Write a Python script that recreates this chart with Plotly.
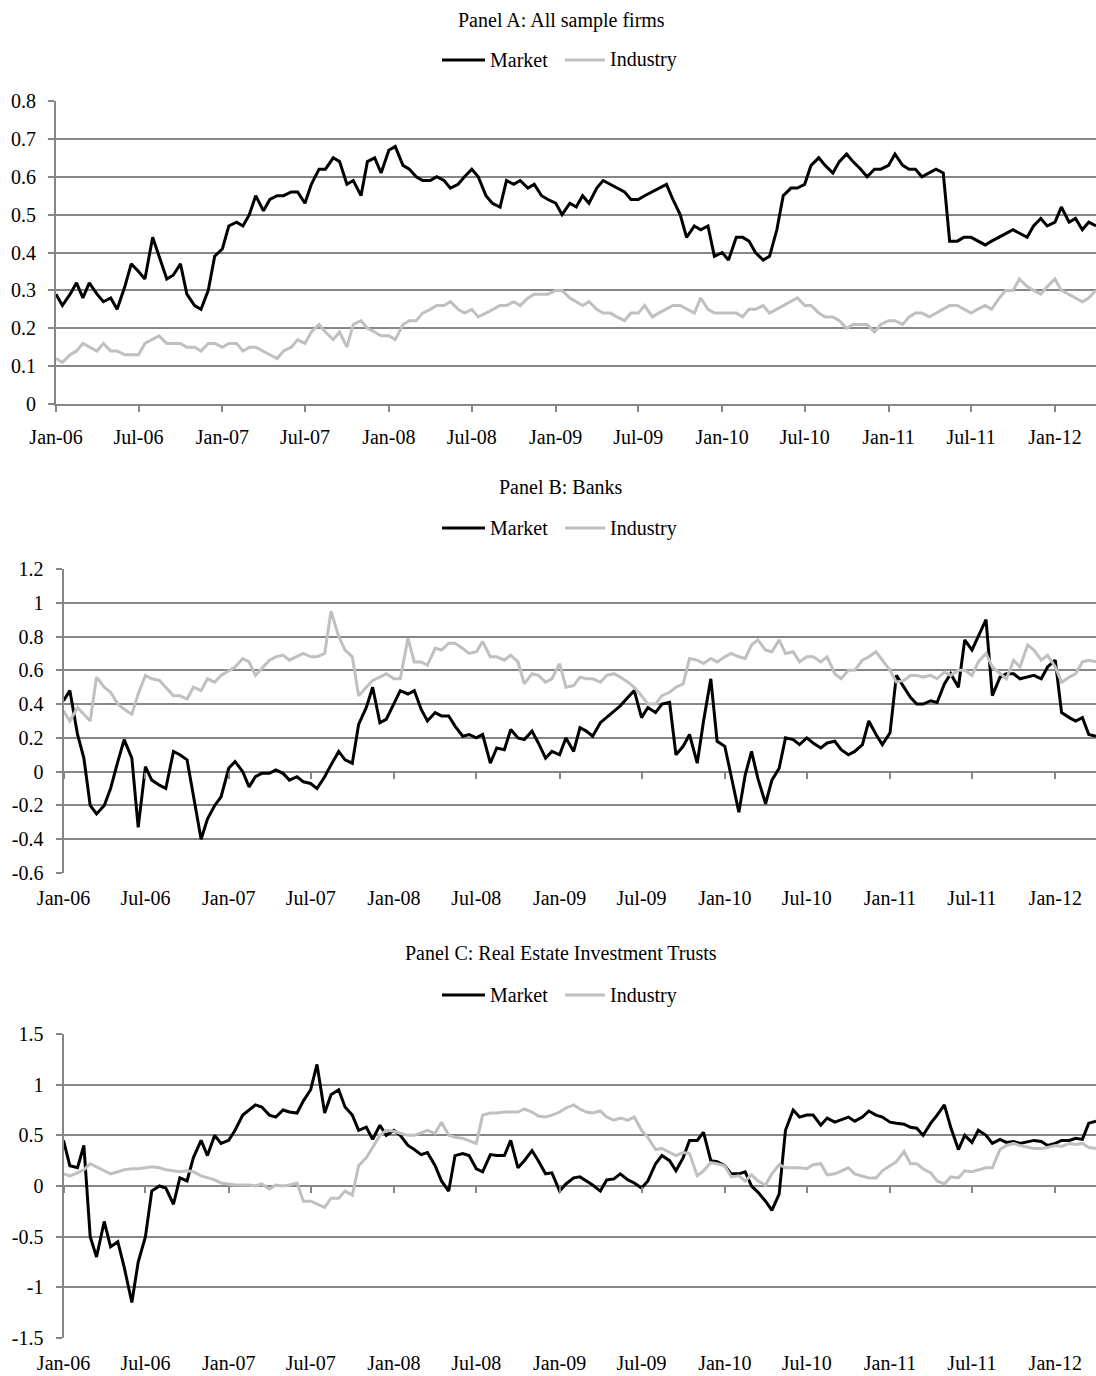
import pandas as pd
import plotly.graph_objects as go

# ---- data (semi-monthly readings, Jan 2006 - Mar 2012) ----
dates = list(pd.date_range("2006-01-01", "2012-03-15", freq="SMS").strftime("%Y-%m-%d")) + ["2012-03-31"]

a_market = [0.29,0.26,0.29,0.32,0.28,0.32,0.29,0.27,0.28,0.25,
            0.31,0.37,0.35,0.33,0.44,0.39,0.33,0.34,0.37,0.29,
            0.26,0.25,0.30,0.39,0.41,0.47,0.48,0.47,0.50,0.55,
            0.51,0.54,0.55,0.55,0.56,0.56,0.53,0.58,0.62,0.62,
            0.65,0.64,0.58,0.59,0.55,0.64,0.65,0.61,0.67,0.68,
            0.63,0.62,0.60,0.59,0.59,0.60,0.59,0.57,0.58,0.60,
            0.62,0.60,0.55,0.53,0.52,0.59,0.58,0.59,0.57,0.58,
            0.55,0.54,0.53,0.50,0.53,0.52,0.55,0.53,0.57,0.59,
            0.58,0.57,0.56,0.54,0.54,0.55,0.56,0.57,0.58,0.54,
            0.50,0.44,0.47,0.46,0.47,0.39,0.40,0.38,0.44,0.44,
            0.43,0.40,0.38,0.39,0.46,0.55,0.57,0.57,0.58,0.63,
            0.65,0.63,0.61,0.64,0.66,0.64,0.62,0.60,0.62,0.62,
            0.63,0.66,0.63,0.62,0.62,0.60,0.61,0.62,0.61,0.43,
            0.43,0.44,0.44,0.43,0.42,0.43,0.44,0.45,0.46,0.45,
            0.44,0.47,0.49,0.47,0.48,0.52,0.48,0.49,0.46,0.48,
            0.47]
a_industry = [0.12,0.11,0.13,0.14,0.16,0.15,0.14,0.16,0.14,0.14,
              0.13,0.13,0.13,0.16,0.17,0.18,0.16,0.16,0.16,0.15,
              0.15,0.14,0.16,0.16,0.15,0.16,0.16,0.14,0.15,0.15,
              0.14,0.13,0.12,0.14,0.15,0.17,0.16,0.19,0.21,0.19,
              0.17,0.19,0.15,0.21,0.22,0.20,0.19,0.18,0.18,0.17,
              0.21,0.22,0.22,0.24,0.25,0.26,0.26,0.27,0.25,0.24,
              0.25,0.23,0.24,0.25,0.26,0.26,0.27,0.26,0.28,0.29,
              0.29,0.29,0.30,0.30,0.28,0.27,0.26,0.27,0.25,0.24,
              0.24,0.23,0.22,0.24,0.24,0.26,0.23,0.24,0.25,0.26,
              0.26,0.25,0.24,0.28,0.25,0.24,0.24,0.24,0.24,0.23,
              0.25,0.25,0.26,0.24,0.25,0.26,0.27,0.28,0.26,0.26,
              0.24,0.23,0.23,0.22,0.20,0.21,0.21,0.21,0.19,0.21,
              0.22,0.22,0.21,0.23,0.24,0.24,0.23,0.24,0.25,0.26,
              0.26,0.25,0.24,0.25,0.26,0.25,0.28,0.30,0.30,0.33,
              0.31,0.30,0.29,0.31,0.33,0.30,0.29,0.28,0.27,0.28,
              0.30]
b_market = [0.42,0.48,0.22,0.08,-0.20,-0.25,-0.20,-0.10,0.06,0.19,
            0.08,-0.33,0.03,-0.05,-0.08,-0.10,0.12,0.10,0.07,-0.15,
            -0.40,-0.28,-0.20,-0.15,0.02,0.06,0.00,-0.09,-0.03,-0.01,
            -0.01,0.01,-0.01,-0.05,-0.03,-0.06,-0.07,-0.10,-0.03,0.04,
            0.12,0.07,0.05,0.28,0.38,0.50,0.29,0.31,0.40,0.48,
            0.46,0.48,0.37,0.30,0.35,0.33,0.33,0.27,0.21,0.22,
            0.20,0.22,0.05,0.14,0.13,0.25,0.20,0.19,0.24,0.17,
            0.08,0.12,0.10,0.20,0.12,0.26,0.24,0.21,0.29,0.32,
            0.36,0.39,0.44,0.48,0.32,0.38,0.35,0.40,0.41,0.10,
            0.15,0.22,0.05,0.30,0.55,0.18,0.15,-0.02,-0.24,-0.02,
            0.12,-0.04,-0.19,-0.05,0.02,0.20,0.19,0.16,0.20,0.17,
            0.14,0.17,0.18,0.13,0.10,0.12,0.16,0.30,0.22,0.16,
            0.23,0.57,0.50,0.44,0.40,0.40,0.42,0.41,0.52,0.58,
            0.50,0.78,0.72,0.80,0.90,0.45,0.56,0.58,0.58,0.55,
            0.56,0.57,0.55,0.62,0.66,0.35,0.32,0.30,0.32,0.22,
            0.21]
b_industry = [0.36,0.30,0.38,0.34,0.30,0.56,0.50,0.47,0.40,0.37,
              0.34,0.46,0.57,0.55,0.54,0.50,0.45,0.45,0.43,0.50,
              0.48,0.55,0.53,0.57,0.60,0.62,0.67,0.65,0.57,0.61,
              0.66,0.68,0.69,0.66,0.68,0.70,0.68,0.68,0.70,0.95,
              0.80,0.72,0.68,0.45,0.50,0.54,0.56,0.58,0.55,0.55,
              0.79,0.65,0.65,0.63,0.73,0.72,0.76,0.76,0.73,0.70,
              0.71,0.77,0.68,0.68,0.66,0.69,0.65,0.52,0.58,0.57,
              0.53,0.55,0.64,0.50,0.51,0.56,0.55,0.55,0.53,0.57,
              0.58,0.56,0.53,0.50,0.45,0.40,0.40,0.45,0.47,0.50,
              0.52,0.67,0.66,0.64,0.67,0.65,0.68,0.70,0.68,0.67,
              0.75,0.78,0.72,0.71,0.78,0.70,0.71,0.65,0.68,0.68,
              0.65,0.68,0.58,0.55,0.60,0.60,0.66,0.68,0.71,0.66,
              0.60,0.53,0.54,0.57,0.57,0.56,0.57,0.55,0.59,0.57,
              0.60,0.60,0.57,0.65,0.70,0.62,0.58,0.55,0.66,0.62,
              0.75,0.72,0.66,0.69,0.62,0.53,0.56,0.58,0.65,0.66,
              0.65]
c_market = [0.45,0.20,0.18,0.40,-0.50,-0.70,-0.35,-0.60,-0.55,-0.80,
            -1.15,-0.75,-0.50,-0.05,0.00,-0.02,-0.18,0.08,0.05,0.28,
            0.45,0.30,0.50,0.42,0.45,0.55,0.70,0.75,0.80,0.78,
            0.70,0.68,0.75,0.73,0.72,0.84,0.95,1.20,0.72,0.90,
            0.95,0.78,0.70,0.55,0.58,0.46,0.60,0.50,0.55,0.50,
            0.40,0.36,0.31,0.33,0.20,0.05,-0.05,0.30,0.32,0.30,
            0.17,0.14,0.31,0.30,0.30,0.45,0.18,0.25,0.35,0.25,
            0.12,0.13,-0.05,0.02,0.08,0.09,0.05,0.01,-0.05,0.06,
            0.07,0.12,0.06,0.03,-0.02,0.05,0.22,0.30,0.25,0.15,
            0.28,0.45,0.45,0.53,0.25,0.24,0.20,0.12,0.12,0.14,
            0.00,-0.06,-0.15,-0.24,-0.08,0.55,0.75,0.68,0.70,0.70,
            0.60,0.67,0.63,0.65,0.68,0.64,0.68,0.74,0.70,0.68,
            0.63,0.62,0.61,0.58,0.57,0.50,0.62,0.70,0.80,0.58,
            0.36,0.50,0.43,0.55,0.50,0.42,0.46,0.43,0.44,0.42,
            0.44,0.45,0.44,0.40,0.42,0.45,0.45,0.47,0.46,0.62,
            0.64]
c_industry = [0.12,0.10,0.13,0.16,0.22,0.19,0.15,0.12,0.14,0.16,
              0.17,0.17,0.18,0.19,0.18,0.16,0.15,0.14,0.15,0.14,
              0.10,0.08,0.06,0.03,0.02,0.01,0.01,0.01,0.00,0.02,
              -0.03,0.01,0.00,0.01,0.03,-0.15,-0.15,-0.18,-0.21,-0.12,
              -0.12,-0.05,-0.09,0.20,0.28,0.38,0.50,0.55,0.54,0.52,
              0.50,0.50,0.53,0.55,0.52,0.63,0.50,0.48,0.47,0.45,
              0.42,0.70,0.72,0.72,0.73,0.73,0.73,0.76,0.73,0.69,
              0.68,0.70,0.73,0.77,0.80,0.76,0.73,0.72,0.74,0.68,
              0.65,0.67,0.65,0.68,0.55,0.48,0.36,0.37,0.33,0.30,
              0.33,0.32,0.10,0.15,0.23,0.22,0.20,0.09,0.10,0.05,
              0.11,0.05,0.01,0.12,0.21,0.18,0.18,0.18,0.17,0.21,
              0.22,0.11,0.12,0.15,0.18,0.12,0.10,0.08,0.08,0.15,
              0.20,0.24,0.34,0.22,0.22,0.17,0.13,0.05,0.02,0.09,
              0.08,0.15,0.14,0.16,0.18,0.18,0.36,0.40,0.42,0.40,
              0.38,0.37,0.37,0.38,0.40,0.39,0.42,0.41,0.42,0.38,
              0.37]

x_tick_vals = ["2006-01-01","2006-07-01","2007-01-01","2007-07-01","2008-01-01","2008-07-01",
               "2009-01-01","2009-07-01","2010-01-01","2010-07-01","2011-01-01","2011-07-01","2012-01-01"]
x_tick_text = ["Jan-06","Jul-06","Jan-07","Jul-07","Jan-08","Jul-08","Jan-09","Jul-09",
               "Jan-10","Jul-10","Jan-11","Jul-11","Jan-12"]
a_yticks = [0, 0.1, 0.2, 0.3, 0.4, 0.5, 0.6, 0.7, 0.8]
a_ylabels = ["0", "0.1", "0.2", "0.3", "0.4", "0.5", "0.6", "0.7", "0.8"]
b_yticks = [-0.6, -0.4, -0.2, 0, 0.2, 0.4, 0.6, 0.8, 1.0, 1.2]
b_ylabels = ["-0.6", "-0.4", "-0.2", "0", "0.2", "0.4", "0.6", "0.8", "1", "1.2"]
c_yticks = [-1.5, -1.0, -0.5, 0, 0.5, 1.0, 1.5]
c_ylabels = ["-1.5", "-1", "-0.5", "0", "0.5", "1", "1.5"]
titles = ["Panel A: All sample firms", "Panel B: Banks", "Panel C: Real Estate Investment Trusts"]
series_names = ["Market", "Industry"]

# ---- styling ----
W, H = 1096, 1376
FONT = "Liberation Serif"
GRID = "#868686"
BLACK = "#000000"
GREY = "#C0C0C0"
LW = 3.0
FS = 20

def fy(px):
    return 1 - px / H

def fx(px):
    return px / W

panels = [
    dict(market=a_market, industry=a_industry, yt=a_yticks, yl=a_ylabels, yr=[0, 0.8],
         xdom=[56 / W, 1], ydom=[fy(404), fy(101)], title_y=20, leg_y=60, standoff=8),
    dict(market=b_market, industry=b_industry, yt=b_yticks, yl=b_ylabels, yr=[-0.6, 1.2],
         xdom=[63.5 / W, 1], ydom=[fy(873), fy(569)], title_y=487, leg_y=528, standoff=11),
    dict(market=c_market, industry=c_industry, yt=c_yticks, yl=c_ylabels, yr=[-1.5, 1.5],
         xdom=[63.5 / W, 1], ydom=[fy(1338), fy(1034)], title_y=953, leg_y=995, standoff=11),
]

fig = go.Figure()
layout = dict(
    width=W, height=H, margin=dict(l=0, r=0, t=0, b=0, autoexpand=False),
    paper_bgcolor="white", plot_bgcolor="white",
    font=dict(family=FONT, size=FS, color="black"),
    annotations=[], shapes=[], showlegend=False,
)

XRANGE = ["2006-01-01", "2012-03-31"]

for k, p in enumerate(panels):
    n = "" if k == 0 else str(k + 1)
    xa, ya = "x" + n, "y" + n
    fig.add_trace(go.Scatter(x=dates, y=p["market"], name=series_names[0], mode="lines",
                             line=dict(color=BLACK, width=LW), xaxis=xa, yaxis=ya))
    fig.add_trace(go.Scatter(x=dates, y=p["industry"], name=series_names[1], mode="lines",
                             line=dict(color=GREY, width=LW), xaxis=xa, yaxis=ya))
    layout["xaxis" + n] = dict(
        domain=p["xdom"], anchor=ya, type="date", range=XRANGE, automargin=False,
        tickvals=x_tick_vals, ticktext=x_tick_text, showgrid=False, zeroline=False,
        showline=(k == 0), linecolor=GRID, linewidth=2,
        ticks="outside" if k == 0 else "", ticklen=6, tickcolor=GRID, tickwidth=1.5,
        ticklabelstandoff=p["standoff"], tickfont=dict(family=FONT, size=FS, color="black"),
    )
    layout["yaxis" + n] = dict(
        domain=p["ydom"], anchor=xa, range=p["yr"], tickvals=p["yt"], ticktext=p["yl"],
        automargin=False,
        showgrid=True, gridcolor=GRID, gridwidth=1.5, zeroline=False,
        showline=True, linecolor=GRID, linewidth=2,
        ticks="outside", ticklen=6, tickcolor=GRID, tickwidth=1.5,
        ticklabelstandoff=8, tickfont=dict(family=FONT, size=FS, color="black"),
    )
    # title
    layout["annotations"].append(dict(
        text=titles[k], x=fx(561), xref="paper", xanchor="center",
        y=fy(p["title_y"]), yref="paper", yanchor="middle", showarrow=False,
        font=dict(family=FONT, size=FS, color="black"),
    ))
    # legend (line samples + labels)
    ly = fy(p["leg_y"])
    for (x0, x1, tx, col, name) in [(442, 485, 488, BLACK, series_names[0]),
                                    (565, 605, 608, GREY, series_names[1])]:
        layout["shapes"].append(dict(type="line", xref="paper", yref="paper",
                                     x0=fx(x0), x1=fx(x1), y0=ly, y1=ly,
                                     line=dict(color=col, width=LW)))
        layout["annotations"].append(dict(
            text=name, x=fx(tx), xref="paper", xanchor="left", y=ly, yref="paper",
            yanchor="middle", showarrow=False, font=dict(family=FONT, size=FS, color="black"),
        ))

# tick marks on the zero line for panels B and C (category axis crosses at 0)
for k, (ya, zero_px) in enumerate([("y2", 569 + 304 * 1.2 / 1.8), ("y3", 1034 + 304 * 0.5)]):
    n = str(k + 4)
    fig.add_trace(go.Scatter(x=[None], y=[None], xaxis="x" + n, yaxis=ya,
                             showlegend=False, hoverinfo="skip"))
    layout["xaxis" + n] = dict(
        overlaying="x" + str(k + 2), anchor="free", position=fy(zero_px), type="date",
        range=XRANGE, automargin=False, tickvals=x_tick_vals, showticklabels=False,
        showgrid=False, zeroline=False, showline=False,
        ticks="outside", ticklen=6, tickcolor=GRID, tickwidth=1.5,
    )

fig.update_layout(**layout)
fig.write_html("out.html", config={"displayModeBar": False},
               post_script="document.body.style.margin='0';document.body.style.overflow='hidden';")
